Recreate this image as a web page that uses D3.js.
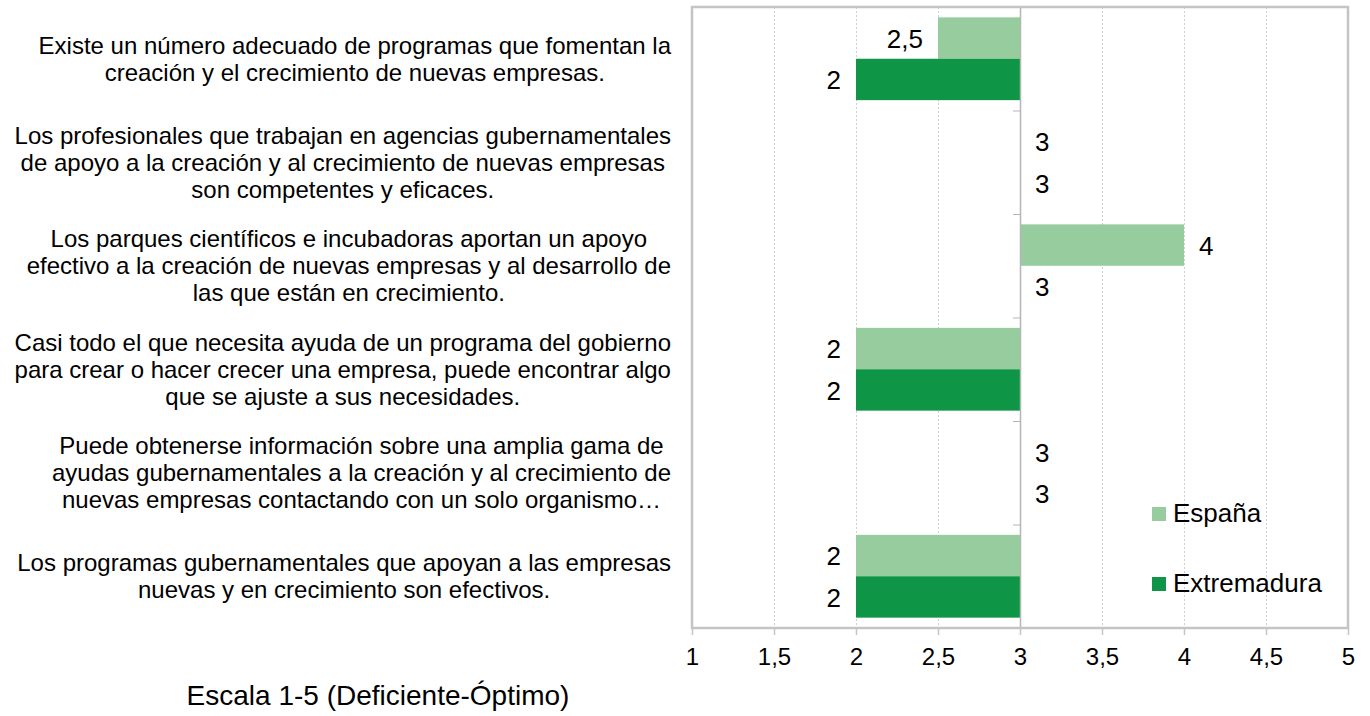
<!DOCTYPE html>
<html lang="es">
<head>
<meta charset="utf-8">
<title>Escala 1-5 (Deficiente-Óptimo)</title>
<script src="https://cdn.jsdelivr.net/npm/d3@7"></script>
<style>
  html, body { margin: 0; padding: 0; background: #ffffff; }
  svg { display: block; font-family: "Liberation Sans", Arial, sans-serif; }
</style>
</head>
<body>
<svg id="chart" width="1370" height="716"></svg>
<script>
// ---- data ----
const categories = [
  "Existe un número adecuado de programas que fomentan la creación y el crecimiento de nuevas empresas.",
  "Los profesionales que trabajan en agencias gubernamentales de apoyo a la creación y al crecimiento de nuevas empresas son competentes y eficaces.",
  "Los parques científicos e incubadoras aportan un apoyo efectivo a la creación de nuevas empresas y al desarrollo de las que están en crecimiento.",
  "Casi todo el que necesita ayuda de un programa del gobierno para crear o hacer crecer una empresa, puede encontrar algo que se ajuste a sus necesidades.",
  "Puede obtenerse información sobre una amplia gama de ayudas gubernamentales a la creación y al crecimiento de nuevas empresas contactando con un solo organismo…",
  "Los programas gubernamentales que apoyan a las empresas nuevas y en crecimiento son efectivos."
];
const espana      = [2.5, 3, 4, 2, 3, 2];
const extremadura = [2,   3, 3, 2, 3, 2];
const seriesNames = ["España", "Extremadura"];
const xTicks = [1, 1.5, 2, 2.5, 3, 3.5, 4, 4.5, 5];
const midpoint = 3;
const axisTitle = "Escala 1-5 (Deficiente-Óptimo)";

// ---- styling ----
const colors = { "España": "#96cc9e", "Extremadura": "#0f9546" };
const plot = { left: 692, right: 1348, top: 7, bottom: 628 };

const locale = d3.formatLocale({ decimal: ",", thousands: ".", grouping: [3], currency: ["", " €"] });
const fmt = locale.format(".1~f");

const svg = d3.select("#chart");

const x = d3.scaleLinear().domain([1, 5]).range([plot.left, plot.right]);
const y = d3.scaleBand().domain(d3.range(categories.length))
  .range([plot.top, plot.bottom]).paddingInner(0.2).paddingOuter(0.1);
const ySub = d3.scaleBand().domain(seriesNames).range([0, y.bandwidth()]);

const rows = categories.map((c, i) => ({
  i, values: [
    { name: "España", v: espana[i] },
    { name: "Extremadura", v: extremadura[i] }
  ]
}));

// vertical gridlines
svg.append("g").selectAll("line")
  .data(xTicks.filter(t => t !== 1 && t !== 5 && t !== midpoint))
  .join("line")
  .attr("x1", d => x(d) + 0.5).attr("x2", d => x(d) + 0.5)
  .attr("y1", plot.top).attr("y2", plot.bottom)
  .attr("stroke", "#cfcfcf").attr("stroke-width", 1)
  .attr("stroke-dasharray", "2,2");

// bars diverging from the midpoint
const groups = svg.append("g").selectAll("g")
  .data(rows).join("g")
  .attr("transform", d => `translate(0,${y(d.i)})`);

groups.selectAll("rect")
  .data(d => d.values).join("rect")
  .attr("x", d => Math.min(x(d.v), x(midpoint)))
  .attr("width", d => Math.abs(x(d.v) - x(midpoint)))
  .attr("y", d => ySub(d.name))
  .attr("height", ySub.bandwidth())
  .attr("fill", d => colors[d.name]);

// value labels at the outer end of each bar
groups.selectAll("text")
  .data(d => d.values).join("text")
  .attr("x", d => d.v < midpoint ? x(d.v) - 15 : x(d.v) + 15)
  .attr("y", d => ySub(d.name) + ySub.bandwidth() / 2)
  .attr("dy", "0.37em")
  .attr("text-anchor", d => d.v < midpoint ? "end" : "start")
  .attr("font-size", 26)
  .attr("fill", "#000")
  .text(d => fmt(d.v));

// category axis drawn at the midpoint
const catAxis = svg.append("g");
catAxis.append("line")
  .attr("x1", x(midpoint) + 0.5).attr("x2", x(midpoint) + 0.5)
  .attr("y1", plot.top).attr("y2", plot.bottom)
  .attr("stroke", "#b5b5b5").attr("stroke-width", 1.5);
const step = y.step();
catAxis.selectAll("line.tick")
  .data(d3.range(categories.length + 1))
  .join("line").attr("class", "tick")
  .attr("x1", x(midpoint) - 7).attr("x2", x(midpoint))
  .attr("y1", d => plot.top + d * step + 0.5).attr("y2", d => plot.top + d * step + 0.5)
  .attr("stroke", "#b5b5b5").attr("stroke-width", 1);

// plot border
svg.append("rect")
  .attr("x", plot.left).attr("y", plot.top)
  .attr("width", plot.right - plot.left).attr("height", plot.bottom - plot.top)
  .attr("fill", "none").attr("stroke", "#c4c4c4").attr("stroke-width", 2.5);

// value axis
const xAxis = d3.axisBottom(x).tickValues(xTicks).tickFormat(fmt)
  .tickSize(7).tickPadding(13);
const gx = svg.append("g").attr("transform", `translate(0,${plot.bottom})`).call(xAxis);
gx.select(".domain").remove();
gx.selectAll(".tick line").attr("stroke", "#c4c4c4").attr("stroke-width", 1.5);
gx.selectAll(".tick text").attr("font-size", 24).attr("fill", "#000")
  .attr("font-family", "'Liberation Sans', Arial, sans-serif");

// category labels: wrapped, lines centred inside a right-aligned block
const labelRight = 671;
const maxLineWidth = 668;
const lineHeight = 27;
const labelSize = 24;
const measure = svg.append("text").attr("font-size", labelSize).attr("visibility", "hidden");
function textWidth(s) { measure.text(s); return measure.node().getComputedTextLength(); }
function wrap(str) {
  const words = str.split(" ");
  const lines = [];
  let cur = "";
  words.forEach(w => {
    const test = cur ? cur + " " + w : w;
    if (cur && textWidth(test) > maxLineWidth) { lines.push(cur); cur = w; }
    else cur = test;
  });
  if (cur) lines.push(cur);
  return lines;
}
const labels = svg.append("g");
categories.forEach((c, i) => {
  const lines = wrap(c);
  const blockW = d3.max(lines, textWidth);
  const cx = labelRight - blockW / 2;
  const cy = plot.top + step * (i + 0.5);
  const t = labels.append("text")
    .attr("text-anchor", "middle").attr("font-size", labelSize).attr("fill", "#000");
  lines.forEach((ln, k) => {
    t.append("tspan").attr("x", cx)
      .attr("y", cy + (k - (lines.length - 1) / 2) * lineHeight + 8.5)
      .text(ln);
  });
});
measure.remove();

// legend
const legend = svg.append("g").attr("transform", "translate(1152,507)");
seriesNames.forEach((s, k) => {
  const g = legend.append("g").attr("transform", `translate(0,${k * 70})`);
  g.append("rect").attr("width", 14).attr("height", 14).attr("fill", colors[s]);
  g.append("text").attr("x", 21).attr("y", 15).attr("font-size", 26).attr("fill", "#000").text(s);
});

// axis title
svg.append("text")
  .attr("x", 378).attr("y", 705)
  .attr("text-anchor", "middle").attr("font-size", 28).attr("fill", "#000")
  .text(axisTitle);
</script>
</body>
</html>
